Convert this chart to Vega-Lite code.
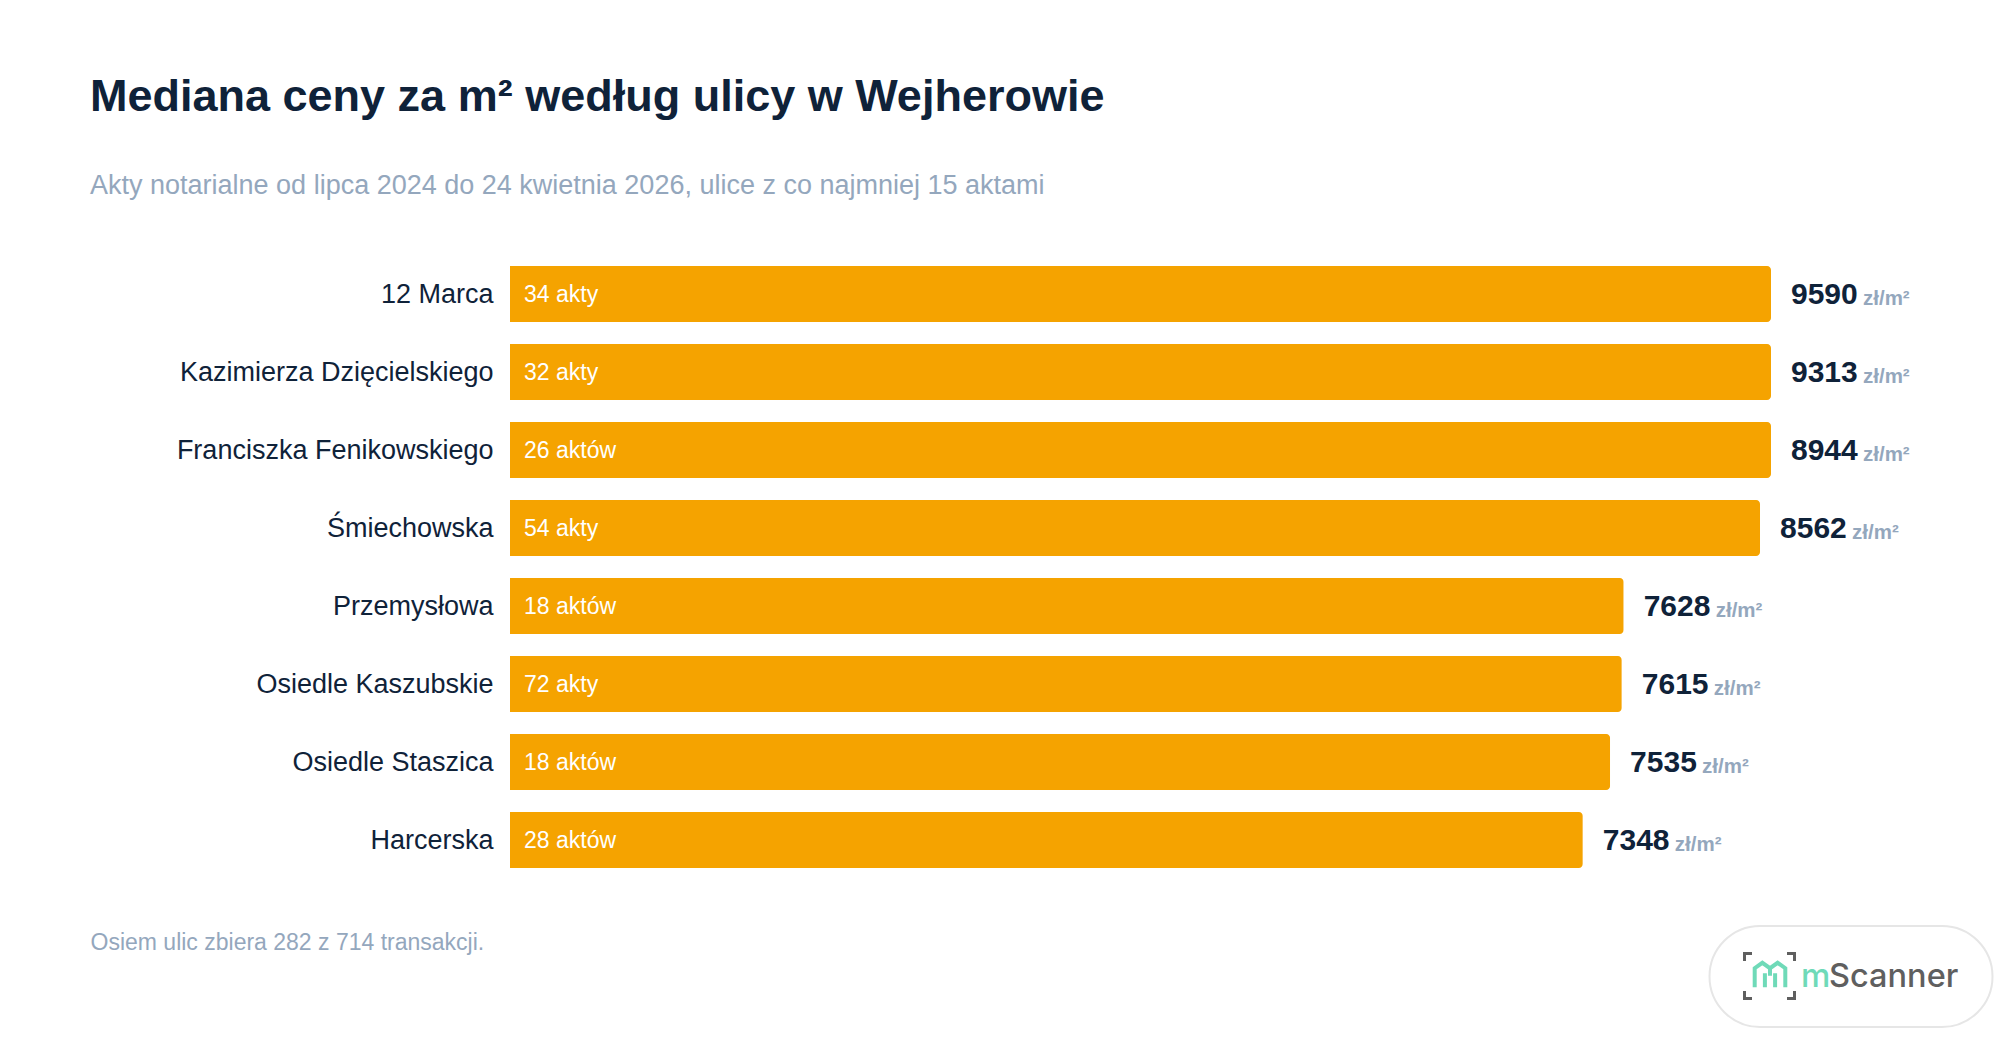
{
  "$schema": "https://vega.github.io/schema/vega-lite/v6.json",
  "autosize": "none",
  "padding": {"left": 510, "top": 255, "right": 229, "bottom": 165},
  "width": 1261,
  "height": 624,
  "background": "#ffffff",
  "config": {
    "view": {"stroke": null},
    "font": "Liberation Sans"
  },
  "title": {
    "text": "Mediana ceny za m² według ulicy w Wejherowie",
    "subtitle": "Akty notarialne od lipca 2024 do 24 kwietnia 2026, ulice z co najmniej 15 aktami",
    "anchor": "start",
    "frame": "group",
    "dx": -420,
    "offset": 56,
    "font": "Liberation Sans",
    "fontSize": 45,
    "fontWeight": "bold",
    "color": "#0f2239",
    "subtitleFont": "Liberation Sans",
    "subtitleFontSize": 27,
    "subtitleColor": "#94a7bd",
    "subtitlePadding": 53
  },
  "layer": [
    {
      "data": {"name": "ulice", "values": [
        {"ulica": "12 Marca", "mediana": 9590, "akty": "34 akty"},
        {"ulica": "Kazimierza Dzięcielskiego", "mediana": 9313, "akty": "32 akty"},
        {"ulica": "Franciszka Fenikowskiego", "mediana": 8944, "akty": "26 aktów"},
        {"ulica": "Śmiechowska", "mediana": 8562, "akty": "54 akty"},
        {"ulica": "Przemysłowa", "mediana": 7628, "akty": "18 aktów"},
        {"ulica": "Osiedle Kaszubskie", "mediana": 7615, "akty": "72 akty"},
        {"ulica": "Osiedle Staszica", "mediana": 7535, "akty": "18 aktów"},
        {"ulica": "Harcerska", "mediana": 7348, "akty": "28 aktów"}
      ]},
      "layer": [
        {
          "mark": {"type": "bar", "color": "#f5a300", "cornerRadiusEnd": 4},
          "encoding": {
            "y": {
              "field": "ulica",
              "type": "nominal",
              "sort": null,
              "scale": {"paddingInner": 0.282, "paddingOuter": 0.141},
              "axis": {
                "title": null,
                "domain": false,
                "ticks": false,
                "labelPadding": 17,
                "labelOffset": 1,
                "labelFontSize": 27,
                "labelColor": "#0f2239",
                "labelLimit": 500
              }
            },
            "x": {
              "field": "mediana",
              "type": "quantitative",
              "scale": {"domain": [0, 8637], "clamp": true, "nice": false},
              "axis": {
                "title": "Osiem ulic zbiera 282 z 714 transakcji.",
                "titleX": -420,
                "titleY": 70,
                "titleAlign": "left",
                "titleBaseline": "alphabetic",
                "titleFontSize": 23,
                "titleFontWeight": "normal",
                "titleColor": "#94a7bd",
                "labels": false,
                "ticks": false,
                "domain": false,
                "grid": false
              }
            }
          }
        },
        {
          "mark": {"type": "text", "align": "left", "dx": 14, "dy": 8, "baseline": "alphabetic", "fontSize": 23, "color": "#ffffff"},
          "encoding": {
            "y": {"field": "ulica", "type": "nominal", "sort": null},
            "x": {"datum": 0, "type": "quantitative"},
            "text": {"field": "akty"}
          }
        },
        {
          "mark": {"type": "text", "align": "left", "dx": 20, "dy": 10, "baseline": "alphabetic", "fontSize": 30, "fontWeight": "bold", "color": "#0f2239"},
          "encoding": {
            "y": {"field": "ulica", "type": "nominal", "sort": null},
            "x": {"field": "mediana", "type": "quantitative"},
            "text": {"field": "mediana", "type": "quantitative", "format": "d"}
          }
        },
        {
          "mark": {"type": "text", "align": "left", "dx": 92, "dy": 11, "baseline": "alphabetic", "fontSize": 20.5, "fontWeight": "bold", "color": "#94a7bd", "text": "zł/m²"},
          "encoding": {
            "y": {"field": "ulica", "type": "nominal", "sort": null},
            "x": {"field": "mediana", "type": "quantitative"}
          }
        }
      ]
    },
    {
      "data": {"values": [{"logo": "mScanner"}]},
      "layer": [
        {
          "mark": {
            "type": "point",
            "clip": false,
            "filled": true,
            "fill": "#ffffff",
            "stroke": "#e6e6e6",
            "strokeWidth": 2,
            "opacity": 1,
            "size": 80089,
            "shape": "M-.643,-.357 H.643 A.357,.357 0 0 1 .643,.357 H-.643 A.357,.357 0 0 1 -.643,-.357 Z"
          },
          "encoding": {"x": {"value": 1341}, "y": {"value": 721.5}}
        },
        {
          "mark": {
            "type": "point",
            "filled": false,
            "stroke": "#5f5f5f",
            "strokeWidth": 3,
            "opacity": 1,
            "size": 2500,
            "shape": "M-1,-.6 V-.9 H-.7 M.7,-.9 H1 V-.6 M1,.6 V.9 H.7 M-.7,.9 H-1 V.6"
          },
          "encoding": {"x": {"value": 1259.5}, "y": {"value": 721}}
        },
        {
          "mark": {
            "type": "point",
            "filled": false,
            "stroke": "#6fdab8",
            "strokeWidth": 4,
            "opacity": 1,
            "size": 1156,
            "shape": "M-.9,.72 V-.4 L-.45,-.72 L0,-.4 L.45,-.72 L.9,-.4 V.72 M-.3,.72 V-.1 M.3,.72 V-.1 M0,-.4 V.05"
          },
          "encoding": {"x": {"value": 1260}, "y": {"value": 720}}
        },
        {
          "mark": {"type": "text", "align": "left", "baseline": "alphabetic", "font": "Inter", "fontSize": 33, "fontWeight": 500, "color": "#6fdab8", "text": "m"},
          "encoding": {"x": {"value": 1291}, "y": {"value": 732}}
        },
        {
          "mark": {"type": "text", "align": "left", "baseline": "alphabetic", "font": "Inter", "fontSize": 32.5, "fontWeight": 500, "color": "#5f5f5f", "text": "Scanner"},
          "encoding": {"x": {"value": 1319}, "y": {"value": 732}}
        }
      ]
    }
  ]
}
